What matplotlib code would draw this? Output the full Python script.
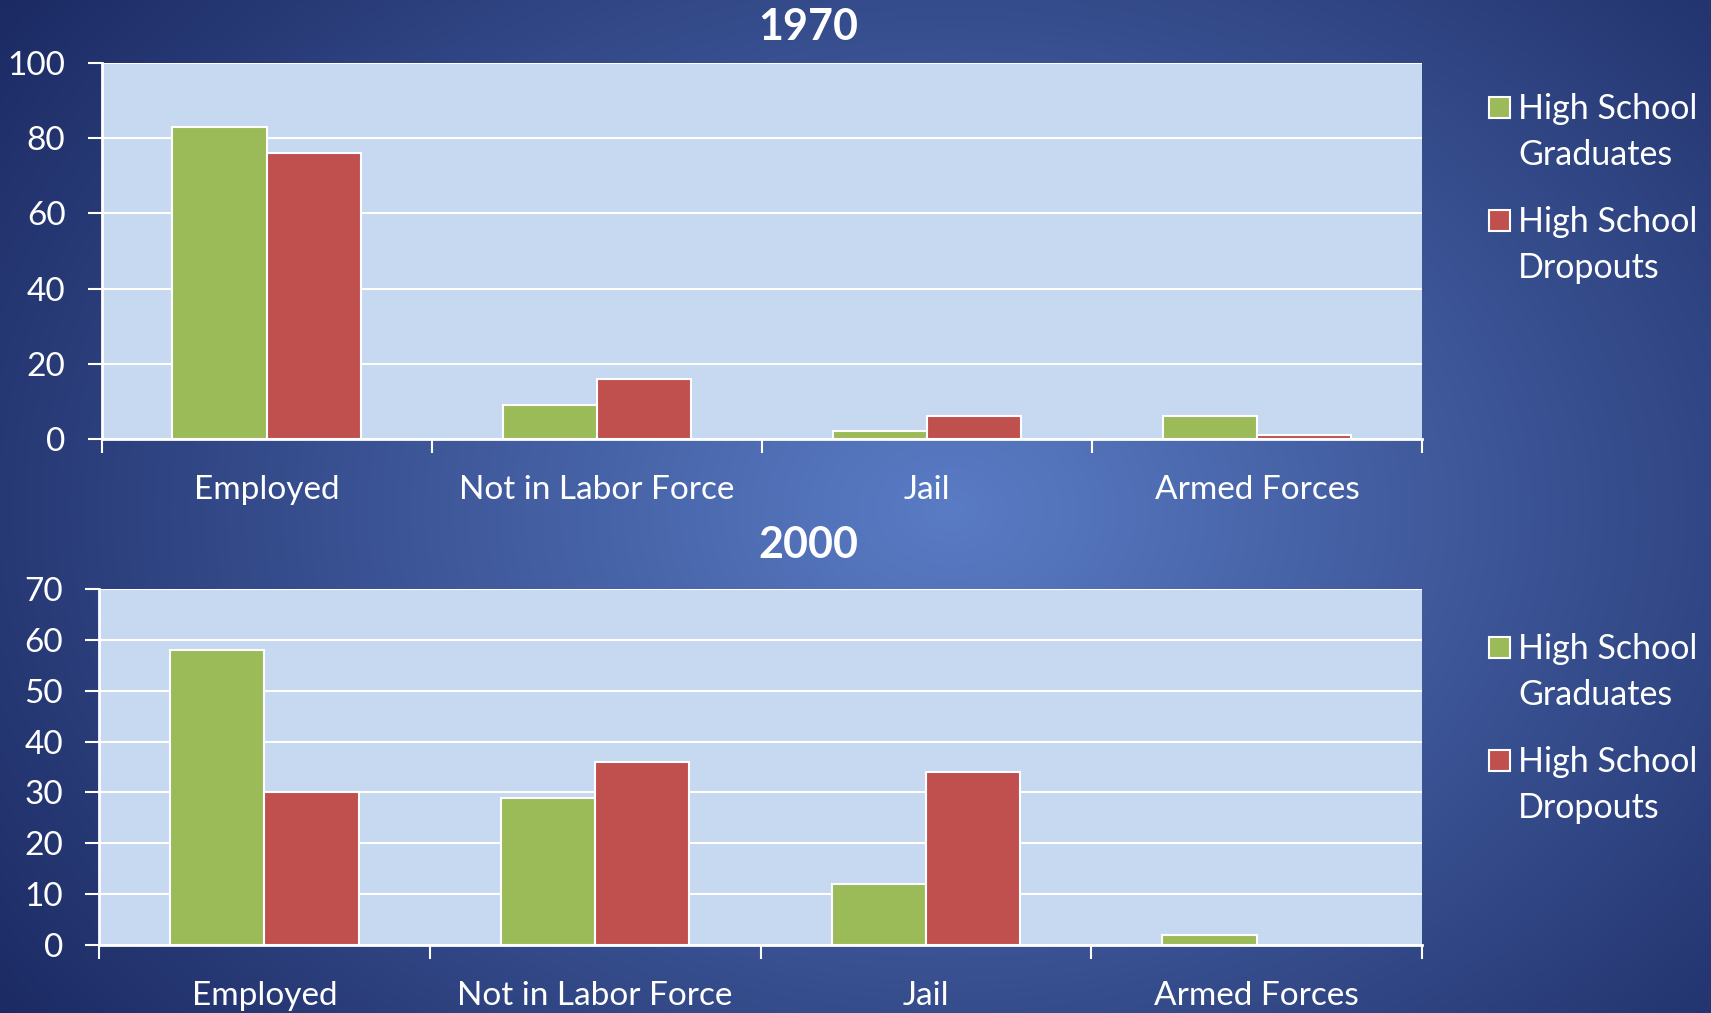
import numpy as np
import matplotlib.pyplot as plt
from matplotlib.patches import Rectangle

plt.rcParams['font.family'] = ['Lato', 'DejaVu Sans']

categories = ['Employed', 'Not in Labor Force', 'Jail', 'Armed Forces']
series = ['High School\nGraduates', 'High School\nDropouts']
grads_1970 = [83, 9, 2, 6]
drops_1970 = [76, 16, 6, 1]
grads_2000 = [58, 29, 12, 2]
drops_2000 = [30, 36, 34, 0]

W, H = 1711, 1013
fig = plt.figure(figsize=(W / 100, H / 100), dpi=100)

# radial blue background
bg = fig.add_axes([0, 0, 1, 1], zorder=-5)
yy, xx = np.mgrid[0:H, 0:W]
d = np.sqrt(((xx - 950) / 1000.0) ** 2 + ((yy - 510) / 750.0) ** 2)
d = np.clip(d / 1.15, 0, 1)
c0 = np.array([0x5a, 0x7c, 0xc5]) / 255
c1 = np.array([0x1c, 0x2b, 0x64]) / 255
img = c0[None, None, :] * (1 - d[..., None]) + c1[None, None, :] * d[..., None]
bg.imshow(img, aspect='auto', extent=[0, 1, 0, 1])
bg.axis('off')

green = '#9BBB59'
red = '#C0504D'


def panel(rect, g, r, ymax, step, title, title_y, leg_y):
    ax = fig.add_axes(rect)
    x = np.arange(len(categories))
    w = 0.285
    ax.bar(x - w / 2, g, w, color=green, edgecolor='white', linewidth=1.5, zorder=3)
    ax.bar(x + w / 2, r, w, color=red, edgecolor='white', linewidth=1.5, zorder=3)
    ax.set_xlim(-0.5, len(categories) - 0.5)
    ax.set_ylim(0, ymax)
    ax.set_facecolor('#C6D9F0')
    ax.set_yticks(np.arange(0, ymax + 1, step))
    ax.grid(axis='y', color='white', linewidth=1.5, zorder=0)
    ax.set_axisbelow(True)
    ax.set_xticks(np.arange(-0.5, len(categories)), labels=[''] * (len(categories) + 1))
    ax.set_xticks(x, labels=categories, minor=True)
    ax.tick_params(axis='x', which='major', length=10, width=1.5, color='white', direction='out')
    ax.tick_params(axis='x', which='minor', length=0, pad=26, labelsize=24, labelcolor='white')
    ax.tick_params(axis='y', length=10, width=1.5, color='white', pad=16,
                   labelsize=24, labelcolor='white')
    for s in ['top', 'right']:
        ax.spines[s].set_visible(False)
    for s in ['left', 'bottom']:
        ax.spines[s].set_color('white')
        ax.spines[s].set_linewidth(2)
    fig.text(0.4726, title_y, title, ha='center', va='center', color='white',
             fontsize=31, fontweight='bold')
    # legend
    for i, (name, col) in enumerate(zip(series, [green, red])):
        ytop = leg_y + i * 113
        fig.patches.append(Rectangle((1489 / W, 1 - (ytop + 11) / H), 21 / W, 21 / H,
                                     transform=fig.transFigure, facecolor=col,
                                     edgecolor='white', linewidth=1.5))
        fig.text(1518 / W, 1 - (ytop - 14) / H, name, ha='left', va='top', color='white',
                 fontsize=24.5, linespacing=1.52)
    return ax


panel([101.5 / W, 1 - 439 / H, (1422 - 101.5) / W, (439 - 63) / H],
      grads_1970, drops_1970, 100, 20, '1970', 1 - 27 / H, 107)
panel([99 / W, 1 - 945 / H, (1422 - 99) / W, (945 - 589) / H],
      grads_2000, drops_2000, 70, 10, '2000', 1 - 545 / H, 647)

fig.savefig('out.png', dpi=100)
